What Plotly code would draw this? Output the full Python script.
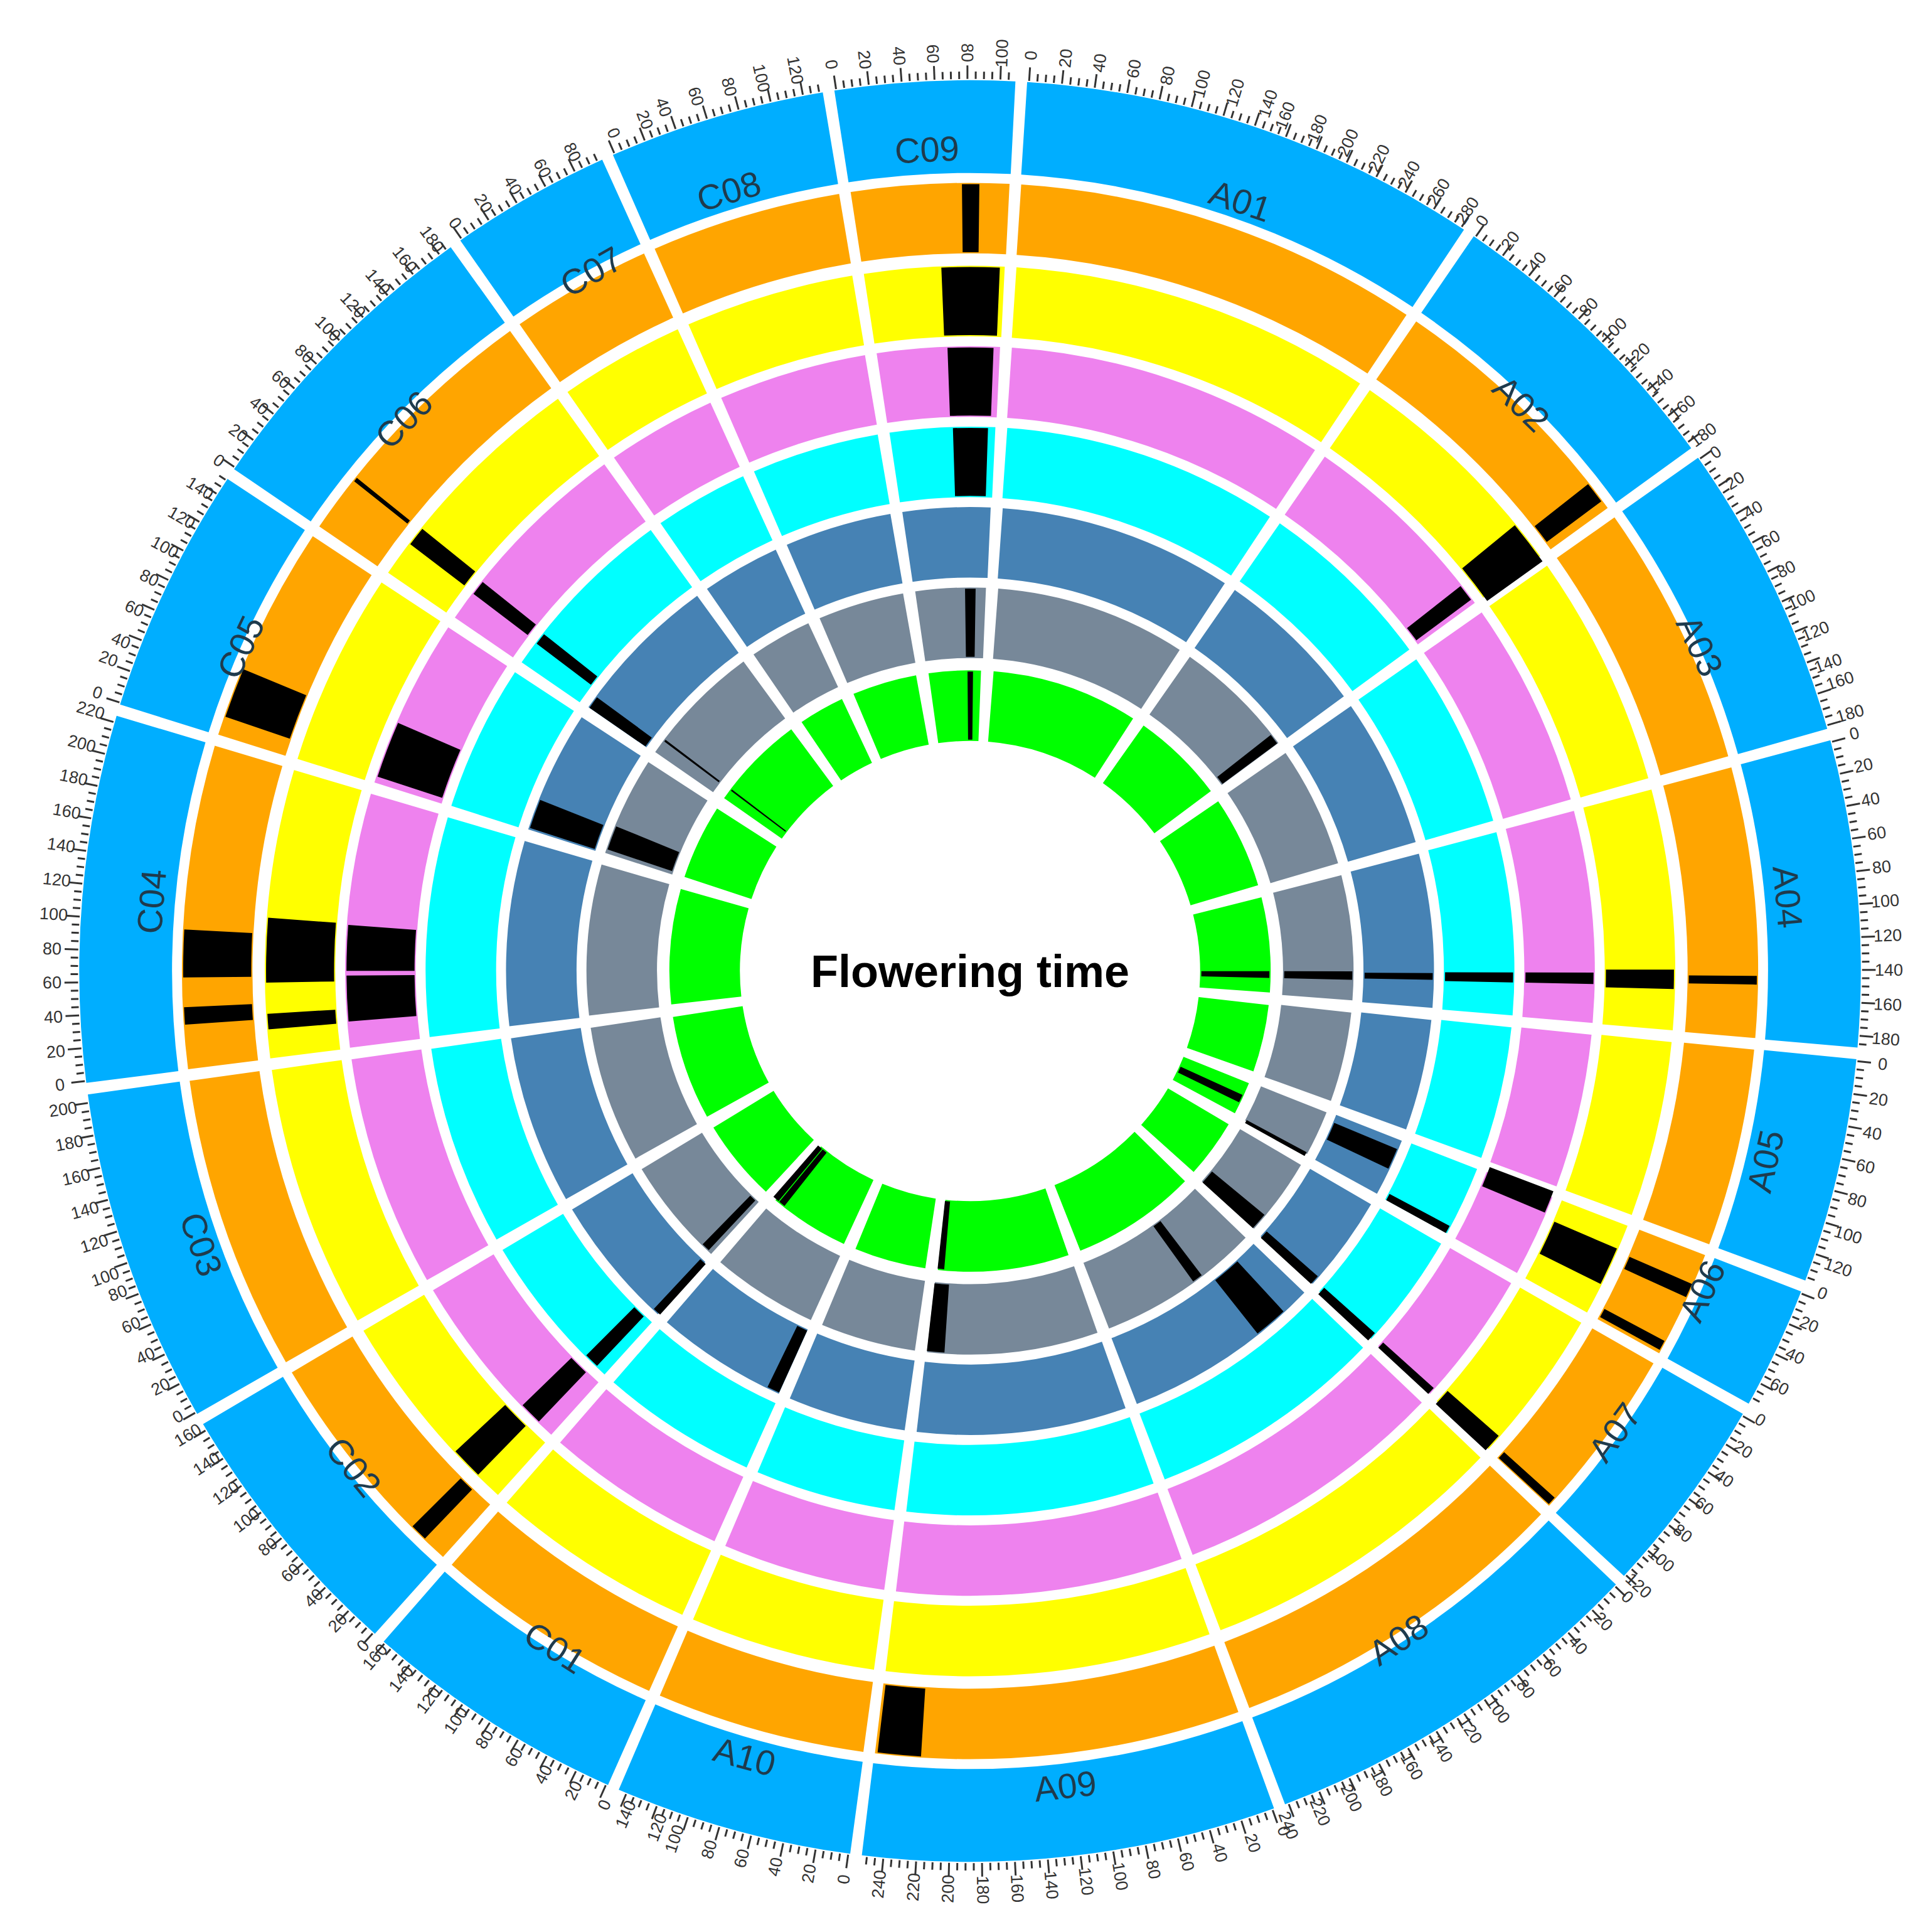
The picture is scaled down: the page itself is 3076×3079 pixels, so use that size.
import math
import plotly.graph_objects as go

# ---------------- data ----------------
chroms = ["A01","A02","A03","A04","A05","A06","A07","A08","A09","A10",
          "C01","C02","C03","C04","C05","C06","C07","C08","C09"]
lengths = [281,183,181,186,136,73,120,241,252,144,
           160,163,204,223,150,187,97,131,108]
ring_colors = ["#FFA500","#FFFF00","#EE82EE","#00FFFF","#4682B4","#778899","#00FF00"]
title_text = "Flowering time"
# QTL marks: (chromosome, ring index 0=outer..6=inner, centre position, width)
marks = [
    ("C09",0,82,12),("C09",1,82,45),("C09",2,82,40),("C09",3,82,35),("C09",5,82,15),("C09",6,82,10),
    ("A02",0,170,15),("A02",1,170,35),("A02",2,171,15),("A02",5,171,15),
    ("A04",0,147,6),("A04",1,147,15),("A04",2,147,10),("A04",3,147,10),("A04",4,147,8),("A04",5,147,12),("A04",6,147,12),
    ("A06",6,38,15),("A06",5,70,6),("A07",5,104,25),("A08",5,93,15),
    ("A06",4,26,25),("A07",4,113,12),("A08",4,55,40),
    ("A06",3,68,8),("A07",3,117,10),
    ("A06",2,5,20),("A07",2,117,7),
    ("A06",1,34,30),("A07",1,115,15),
    ("A06",0,26,10),("A06",0,68,7),("A07",0,117,6),
    ("A09",0,236,30),("A09",5,236,25),("A09",6,240,12),
    ("C01",4,10,15),("C01",6,140,12),("C01",6,154,12),
    ("C02",5,16,12),("C02",4,5,10),("C02",3,20,15),("C02",2,26,20),("C02",1,34,25),("C02",0,23,12),
    ("C04",0,79,33),("C04",0,36,12),("C04",1,83,50),("C04",1,28,12),("C04",2,87,40),("C04",2,43,40),
    ("C05",0,30,35),("C05",2,31,50),("C05",4,22,35),("C05",5,27,35),
    ("C06",0,40,3),("C06",1,35,15),("C06",2,33,13),("C06",3,31,12),("C06",4,10,15),("C06",5,25,3),("C06",6,26,3),
]

# ---------------- layout geometry ----------------
RMAX = 780.0
GAP_DEG = 1.0
START = 3.8
dpu = (360 - GAP_DEG*len(chroms)) / sum(lengths)
starts = {}
a = START
for c, L in zip(chroms, lengths):
    starts[c] = a
    a += L*dpu + GAP_DEG
ring_r = [(580,637),(513,570),(448,505),(383,440),(318,375),(253,310),(186,243)]
blue_r = (645,720)
GAP_PX = 9.0

fig = go.Figure()

def seg_trace(r0, r1, color):
    th, w = [], []
    rm = (r0+r1)/2
    gd = GAP_PX/rm*180/math.pi
    for c, L in zip(chroms, lengths):
        th.append(starts[c] + L*dpu/2)
        w.append(L*dpu + GAP_DEG - gd)
    fig.add_trace(go.Barpolar(theta=th, width=w, base=[r0]*len(th), r=[r1-r0]*len(th),
                              marker=dict(color=color, line=dict(width=0)), hoverinfo="skip"))

seg_trace(*blue_r, "#00AEFF")
for (r0, r1), col in zip(ring_r, ring_colors):
    seg_trace(r0, r1, col)

mt, mw, mb, mr = [], [], [], []
for c, ring, p, w in marks:
    r0, r1 = ring_r[ring]
    mt.append(starts[c] + p*dpu); mw.append(w*dpu); mb.append(r0+1); mr.append(r1-r0-2)
fig.add_trace(go.Barpolar(theta=mt, width=mw, base=mb, r=mr,
                          marker=dict(color="black", line=dict(width=0)), hoverinfo="skip"))

# ticks
tt, trr = [], []
for c, L in zip(chroms, lengths):
    for u in range(0, L+1, 5):
        t = starts[c] + u*dpu
        tt += [t, t, None]
        trr += [721, 732 if u % 20 == 0 else 727, None]
fig.add_trace(go.Scatterpolar(theta=tt, r=trr, mode="lines", line=dict(color="#333333", width=3),
                              hoverinfo="skip"))

W, H = 3076, 3079
ann = []
def pos(r, t):
    x = 0.5 + 0.5*(r/RMAX)*math.sin(math.radians(t))
    y = 0.5 + 0.5*(r/RMAX)*math.cos(math.radians(t))*W/H
    return x, y

for c, L in zip(chroms, lengths):
    for u in range(0, L+1, 20):
        t = starts[c] + u*dpu
        s = str(u)
        x, y = pos(743 + 4.0*len(s), t)
        tn = t % 360
        ang = tn - 90 if tn < 180 else tn - 270
        ann.append(dict(x=x, y=y, xref="paper", yref="paper", text=s, showarrow=False,
                        textangle=ang, font=dict(size=27, color="#333333", family="Liberation Sans")))
    tc = (starts[c] + L*dpu/2) % 360
    x, y = pos(683, tc)
    ang = tc if tc <= 90 else (tc - 180 if tc < 270 else tc - 360)
    ann.append(dict(x=x, y=y, xref="paper", yref="paper", text=c, showarrow=False,
                    textangle=ang, font=dict(size=56, color="#1f3b4d", family="Liberation Sans")))

ann.append(dict(x=0.5, y=0.5, xref="paper", yref="paper", text="<b>"+title_text+"</b>", showarrow=False,
                font=dict(size=72, color="black", family="Liberation Sans")))

fig.update_layout(
    width=W, height=H, margin=dict(l=0, r=0, t=0, b=0), showlegend=False,
    paper_bgcolor="white", plot_bgcolor="white", annotations=ann, bargap=0,
    polar=dict(domain=dict(x=[0,1], y=[0,1]), bgcolor="white", barmode="overlay",
               radialaxis=dict(range=[0,RMAX], visible=False),
               angularaxis=dict(rotation=90, direction="clockwise", visible=False)),
)
fig.write_html("out.html")
